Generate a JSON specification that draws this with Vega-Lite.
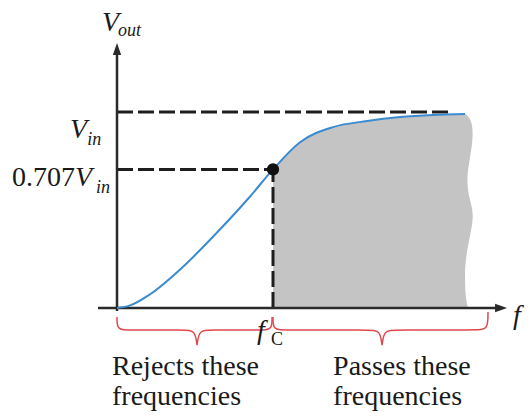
{
  "$schema": "https://vega.github.io/schema/vega-lite/v6.json",
  "width": 530,
  "height": 417,
  "padding": 0,
  "autosize": "none",
  "background": "white",
  "config": {"view": {"stroke": null}},
  "datasets": {
    "response": [
      {"x": 0.0, "y": 0.0},
      {"x": 0.08, "y": 0.012},
      {"x": 0.212, "y": 0.07},
      {"x": 0.423, "y": 0.21},
      {"x": 0.641, "y": 0.385},
      {"x": 0.853, "y": 0.569},
      {"x": 1.0, "y": 0.707},
      {"x": 1.173, "y": 0.846},
      {"x": 1.385, "y": 0.923},
      {"x": 1.603, "y": 0.954},
      {"x": 1.814, "y": 0.974},
      {"x": 2.026, "y": 0.985},
      {"x": 2.231, "y": 0.99}
    ],
    "edge": [
      {"x": 2.231, "y": 0.99},
      {"x": 2.262, "y": 0.972},
      {"x": 2.28, "y": 0.925},
      {"x": 2.28, "y": 0.86},
      {"x": 2.266, "y": 0.78},
      {"x": 2.248, "y": 0.7},
      {"x": 2.244, "y": 0.64},
      {"x": 2.254, "y": 0.575},
      {"x": 2.276, "y": 0.515},
      {"x": 2.284, "y": 0.46},
      {"x": 2.266, "y": 0.38},
      {"x": 2.244, "y": 0.296},
      {"x": 2.23, "y": 0.209},
      {"x": 2.23, "y": 0.128},
      {"x": 2.236, "y": 0.045},
      {"x": 2.25, "y": 0.0}
    ],
    "guides": [
      {"x": 0, "y": 1, "x2": 2.14, "y2": 1},
      {"x": 0, "y": 0.707, "x2": 1, "y2": 0.707},
      {"x": 1, "y": 0, "x2": 1, "y2": 0.707}
    ],
    "axes": [
      {"x": -0.122, "y": 0, "x2": 2.45, "y2": 0},
      {"x": 0, "y": -0.015, "x2": 0, "y2": 1.3}
    ],
    "braces": [
      {"brace": "reject", "i": 0, "x": 0.0, "y": -0.046},
      {"brace": "reject", "i": 1, "x": 0.0, "y": -0.112},
      {"brace": "reject", "i": 2, "x": 0.07, "y": -0.112},
      {"brace": "reject", "i": 3, "x": 0.44, "y": -0.112},
      {"brace": "reject", "i": 4, "x": 0.5, "y": -0.115},
      {"brace": "reject", "i": 5, "x": 0.513, "y": -0.189},
      {"brace": "reject", "i": 6, "x": 0.513, "y": -0.189},
      {"brace": "reject", "i": 7, "x": 0.513, "y": -0.189},
      {"brace": "reject", "i": 8, "x": 0.526, "y": -0.115},
      {"brace": "reject", "i": 9, "x": 0.586, "y": -0.112},
      {"brace": "reject", "i": 10, "x": 0.924, "y": -0.112},
      {"brace": "reject", "i": 11, "x": 0.994, "y": -0.112},
      {"brace": "reject", "i": 12, "x": 0.994, "y": -0.046},
      {"brace": "pass", "i": 0, "x": 1.0, "y": -0.046},
      {"brace": "pass", "i": 1, "x": 1.0, "y": -0.112},
      {"brace": "pass", "i": 2, "x": 1.07, "y": -0.112},
      {"brace": "pass", "i": 3, "x": 1.626, "y": -0.112},
      {"brace": "pass", "i": 4, "x": 1.686, "y": -0.115},
      {"brace": "pass", "i": 5, "x": 1.699, "y": -0.189},
      {"brace": "pass", "i": 6, "x": 1.699, "y": -0.189},
      {"brace": "pass", "i": 7, "x": 1.699, "y": -0.189},
      {"brace": "pass", "i": 8, "x": 1.712, "y": -0.115},
      {"brace": "pass", "i": 9, "x": 1.772, "y": -0.112},
      {"brace": "pass", "i": 10, "x": 2.308, "y": -0.112},
      {"brace": "pass", "i": 11, "x": 2.378, "y": -0.112},
      {"brace": "pass", "i": 12, "x": 2.378, "y": -0.02}
    ]
  },
  "encoding": {
    "x": {"field": "x", "type": "quantitative", "scale": {"domain": [-0.75, 2.6474], "nice": false, "zero": false}, "axis": null},
    "y": {"field": "y", "type": "quantitative", "scale": {"domain": [-0.5561, 1.5714], "nice": false, "zero": false}, "axis": null}
  },
  "layer": [
    {
      "data": {"name": "response"},
      "transform": [{"filter": "datum.x >= 1"}],
      "mark": {"type": "area", "color": "#c4c4c4", "interpolate": "monotone"},
      "encoding": {"y2": {"datum": 0}}
    },
    {
      "data": {"name": "edge"},
      "mark": {"type": "area", "orient": "horizontal", "color": "#c4c4c4", "interpolate": "basis"},
      "encoding": {"x2": {"datum": 2.2}}
    },
    {
      "data": {"name": "guides"},
      "mark": {"type": "rule", "color": "#1e1e1e", "strokeWidth": 3, "strokeDash": [16, 5]},
      "encoding": {"x2": {"field": "x2"}, "y2": {"field": "y2"}}
    },
    {
      "data": {"name": "axes"},
      "mark": {"type": "rule", "color": "#2a2a2a", "strokeWidth": 2.5},
      "encoding": {"x2": {"field": "x2"}, "y2": {"field": "y2"}}
    },
    {
      "data": {"name": "response"},
      "mark": {"type": "line", "color": "#3b8bd0", "strokeWidth": 2, "interpolate": "monotone"},
      "encoding": {}
    },
    {
      "data": {"values": [{"x": 1, "y": 0.707}]},
      "mark": {"type": "point", "filled": true, "color": "#111111", "size": 150, "opacity": 1}
    },
    {
      "data": {"values": [{"x": 0, "y": 1.321}]},
      "mark": {"type": "point", "filled": true, "color": "#2a2a2a", "size": 144, "opacity": 1, "shape": "M0,-1L0.7,1L-0.7,1Z"}
    },
    {
      "data": {"values": [{"x": 2.462, "y": 0}]},
      "mark": {"type": "point", "filled": true, "color": "#2a2a2a", "size": 144, "opacity": 1, "shape": "M1,0L-1,0.7L-1,-0.7Z"}
    },
    {
      "data": {"name": "braces"},
      "mark": {"type": "line", "color": "#e0474c", "strokeWidth": 1.5, "interpolate": "basis"},
      "encoding": {"detail": {"field": "brace"}, "order": {"field": "i", "type": "quantitative"}}
    },
    {
      "data": {"values": [
        {"t": "0.707", "x": -0.673, "y": 0.622},
        {"t": "Rejects these", "x": -0.032, "y": -0.342},
        {"t": "frequencies", "x": -0.032, "y": -0.495},
        {"t": "Passes these", "x": 1.385, "y": -0.342},
        {"t": "frequencies", "x": 1.385, "y": -0.495}
      ]},
      "mark": {"type": "text", "font": "Liberation Serif, Times New Roman, DejaVu Serif, serif", "fontSize": 28, "align": "left", "baseline": "alphabetic", "color": "#1a1a1a"},
      "encoding": {"text": {"field": "t"}}
    },
    {
      "data": {"values": [
        {"t": "V", "x": -0.096, "y": 1.413},
        {"t": "V", "x": -0.301, "y": 0.867},
        {"t": "V", "x": -0.269, "y": 0.622},
        {"t": "f", "x": 2.538, "y": -0.082},
        {"t": "f", "x": 0.897, "y": -0.158}
      ]},
      "mark": {"type": "text", "font": "Liberation Serif, Times New Roman, DejaVu Serif, serif", "fontStyle": "italic", "fontSize": 28, "align": "left", "baseline": "alphabetic", "color": "#1a1a1a"},
      "encoding": {"text": {"field": "t"}}
    },
    {
      "data": {"values": [
        {"t": "out", "x": 0.006, "y": 1.388},
        {"t": "in", "x": -0.19, "y": 0.832},
        {"t": "in", "x": -0.135, "y": 0.586}
      ]},
      "mark": {"type": "text", "font": "Liberation Serif, Times New Roman, DejaVu Serif, serif", "fontStyle": "italic", "fontSize": 18, "align": "left", "baseline": "alphabetic", "color": "#1a1a1a"},
      "encoding": {"text": {"field": "t"}}
    },
    {
      "data": {"values": [{"t": "C", "x": 0.987, "y": -0.189}]},
      "mark": {"type": "text", "font": "Liberation Serif, Times New Roman, DejaVu Serif, serif", "fontSize": 18, "align": "left", "baseline": "alphabetic", "color": "#1a1a1a"},
      "encoding": {"text": {"field": "t"}}
    }
  ]
}
